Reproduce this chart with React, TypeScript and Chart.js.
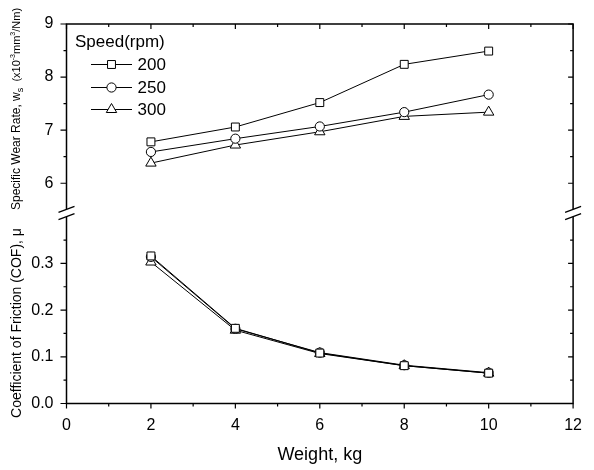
import React, { useEffect, useRef } from 'react';
import { Chart, registerables } from 'chart.js';

Chart.register(...registerables);

// ---- data ----
const weights = [2, 4, 6, 8, 10];
const speedLabels = ['200', '250', '300'];
const wear200 = [6.78, 7.06, 7.52, 8.24, 8.49];
const wear250 = [6.59, 6.84, 7.07, 7.34, 7.67];
const wear300 = [6.38, 6.72, 6.97, 7.26, 7.34];
const cof200 = [0.316, 0.161, 0.108, 0.081, 0.065];
const cof250 = [0.314, 0.16, 0.109, 0.082, 0.066];
const cof300 = [0.303, 0.157, 0.107, 0.081, 0.065];

const xTicks = [0, 2, 4, 6, 8, 10, 12];
const xMinor = [1, 3, 5, 7, 9, 11];
const wearTicks = [6, 7, 8, 9];
const wearMinor = [6.5, 7.5, 8.5];
const cofTicks = [0.0, 0.1, 0.2, 0.3];
const cofMinor = [0.05, 0.15, 0.25, 0.35];

const FONT = '"Liberation Sans", Arial, Helvetica, sans-serif';
const markerStyles = ['rect', 'circle', 'triangle'];
const markerRadius = [5.6, 4.6, 6];

function drawMarker(ctx: CanvasRenderingContext2D, style: string, r: number, x: number, y: number) {
  ctx.beginPath();
  if (style === 'rect') {
    const s = Math.SQRT1_2 * r;
    ctx.rect(x - s, y - s, 2 * s, 2 * s);
  } else if (style === 'circle') {
    ctx.arc(x, y, r, 0, Math.PI * 2);
  } else {
    let rad = 0;
    ctx.moveTo(x + Math.sin(rad) * r, y - Math.cos(rad) * r);
    rad += (2 * Math.PI) / 3;
    ctx.lineTo(x + Math.sin(rad) * r, y - Math.cos(rad) * r);
    rad += (2 * Math.PI) / 3;
    ctx.lineTo(x + Math.sin(rad) * r, y - Math.cos(rad) * r);
    ctx.closePath();
  }
  ctx.fillStyle = '#fff';
  ctx.fill();
  ctx.strokeStyle = '#000';
  ctx.lineWidth = 1;
  ctx.stroke();
}

type Part = { t: string; size: number; dy?: number };

function drawRotated(ctx: CanvasRenderingContext2D, parts: Part[], bx: number, cy: number) {
  ctx.save();
  ctx.translate(bx, cy);
  ctx.rotate(-Math.PI / 2);
  ctx.fillStyle = '#000';
  ctx.textBaseline = 'alphabetic';
  ctx.textAlign = 'left';
  let total = 0;
  const widths: number[] = [];
  for (const p of parts) {
    ctx.font = `${p.size}px ${FONT}`;
    const w = ctx.measureText(p.t).width;
    widths.push(w);
    total += w;
  }
  let x = -total / 2;
  parts.forEach((p, i) => {
    ctx.font = `${p.size}px ${FONT}`;
    ctx.fillText(p.t, x, p.dy || 0);
    x += widths[i];
  });
  ctx.restore();
}

const decor = {
  id: 'decor',
  afterDraw(chart: any) {
    const ctx: CanvasRenderingContext2D = chart.ctx;
    const { left, right, top, bottom } = chart.chartArea;
    const xs = chart.scales.x;
    const yT = chart.scales.yTop;
    const yB = chart.scales.yBot;
    const brk = Math.max(yT.top, yB.top);
    const g = 3.7;
    ctx.save();
    ctx.strokeStyle = '#000';
    ctx.lineWidth = 1.5;
    ctx.beginPath();
    ctx.moveTo(left - 0.75, top);
    ctx.lineTo(right + 0.75, top);
    ctx.moveTo(left - 0.75, bottom);
    ctx.lineTo(right + 0.75, bottom);
    for (const xx of [left, right]) {
      ctx.moveTo(xx, top);
      ctx.lineTo(xx, brk - g);
      ctx.moveTo(xx, brk + g);
      ctx.lineTo(xx, bottom);
    }
    ctx.stroke();

    // break marks
    ctx.lineWidth = 1.3;
    ctx.beginPath();
    for (const xx of [left, right]) {
      for (const s of [-1, 1]) {
        const cy = brk + s * g;
        ctx.moveTo(xx - 8, cy + 3);
        ctx.lineTo(xx + 8, cy - 3);
      }
    }
    ctx.stroke();

    // ticks
    ctx.lineWidth = 1.2;
    ctx.beginPath();
    const yTick = (scale: any, v: number, outLen: number, inLen: number) => {
      const p = scale.getPixelForValue(v);
      ctx.moveTo(left, p);
      ctx.lineTo(left - outLen, p);
      ctx.moveTo(right, p);
      ctx.lineTo(right - inLen, p);
    };
    wearTicks.forEach((v) => yTick(yT, v, 6, 5));
    wearMinor.forEach((v) => yTick(yT, v, 3, 3));
    cofTicks.forEach((v) => yTick(yB, v, 6, 5));
    cofMinor.forEach((v) => yTick(yB, v, 3, 3));
    const xTick = (v: number, outLen: number, inLen: number) => {
      const p = xs.getPixelForValue(v);
      ctx.moveTo(p, bottom);
      ctx.lineTo(p, bottom + outLen);
      ctx.moveTo(p, top);
      ctx.lineTo(p, top + inLen);
    };
    xTicks.forEach((v) => xTick(v, 5, 5));
    xMinor.forEach((v) => xTick(v, 3, 3));
    ctx.stroke();

    // legend
    ctx.fillStyle = '#000';
    ctx.font = `17px ${FONT}`;
    ctx.textBaseline = 'middle';
    ctx.textAlign = 'left';
    ctx.fillText('Speed(rpm)', 75, 42);
    const rows = [64.5, 87.5, 109.5];
    speedLabels.forEach((lab, i) => {
      const y = rows[i];
      ctx.strokeStyle = '#000';
      ctx.lineWidth = 1;
      ctx.beginPath();
      ctx.moveTo(91, y);
      ctx.lineTo(132, y);
      ctx.stroke();
      drawMarker(ctx, markerStyles[i], markerRadius[i], 111.5, y);
      ctx.fillStyle = '#000';
      ctx.font = `17px ${FONT}`;
      ctx.textBaseline = 'middle';
      ctx.fillText(lab, 137.5, y + 1);
    });

    // y titles
    drawRotated(
      ctx,
      [
        { t: 'Specific Wear Rate, w', size: 12 },
        { t: 's', size: 9, dy: 3 },
        { t: '  (x10', size: 11 },
        { t: '-3', size: 7, dy: -5 },
        { t: 'mm', size: 11 },
        { t: '3', size: 7, dy: -5 },
        { t: '/Nm)', size: 11 },
      ],
      19.5,
      109
    );
    drawRotated(ctx, [{ t: 'Coefficient of Friction (COF), \u03bc', size: 14 }], 20.5, 323);
    ctx.restore();
  },
};

function makeSet(label: string, data: number[], i: number, axis: string) {
  return {
    label,
    data: weights.map((w, k) => ({ x: w, y: data[k] })),
    yAxisID: axis,
    borderColor: '#000',
    borderWidth: 1,
    backgroundColor: '#fff',
    pointStyle: markerStyles[i],
    pointRadius: markerRadius[i],
    pointBorderWidth: 1,
    pointBackgroundColor: '#fff',
    pointBorderColor: '#000',
    fill: false,
    tension: 0,
  };
}

export default function App() {
  const ref = useRef<HTMLCanvasElement | null>(null);
  useEffect(() => {
    if (!ref.current) return;
    const tickFont = { family: FONT, size: 16 };
    const chart = new Chart(ref.current, {
      type: 'line',
      data: {
        datasets: [
          makeSet('200', wear200, 0, 'yTop'),
          makeSet('250', wear250, 1, 'yTop'),
          makeSet('300', wear300, 2, 'yTop'),
          makeSet('200 COF', cof200, 0, 'yBot'),
          makeSet('250 COF', cof250, 1, 'yBot'),
          makeSet('300 COF', cof300, 2, 'yBot'),
        ] as any,
      },
      options: {
        responsive: false,
        animation: false,
        devicePixelRatio: 1,
        layout: { padding: { top: 24, right: 9.5, left: 0, bottom: 0 } },
        plugins: { legend: { display: false }, tooltip: { enabled: false } },
        scales: {
          x: {
            type: 'linear',
            min: 0,
            max: 12,
            afterBuildTicks: (s: any) => {
              s.ticks = xTicks.map((v) => ({ value: v }));
            },
            grid: { display: false, drawTicks: false },
            border: { display: false },
            ticks: { font: tickFont, color: '#000', padding: 12, maxRotation: 0, autoSkip: false },
            title: {
              display: true,
              text: 'Weight, kg',
              font: { family: FONT, size: 18 },
              color: '#000',
              padding: { top: 0, bottom: 4 },
            },
            afterFit: (s: any) => {
              s.height = 66.5;
            },
          },
          yBot: {
            type: 'linear',
            position: 'left',
            stack: 'y',
            stackWeight: 190.5,
            min: 0,
            max: 0.408,
            afterBuildTicks: (s: any) => {
              s.ticks = cofTicks.map((v) => ({ value: v }));
            },
            grid: { display: false, drawTicks: false },
            border: { display: false },
            ticks: { font: tickFont, color: '#000', padding: 13, callback: (v: any) => Number(v).toFixed(1) },
            afterFit: (s: any) => {
              s.width = 66.5;
            },
          },
          yTop: {
            type: 'linear',
            position: 'left',
            stack: 'y',
            stackWeight: 189,
            min: 5.44,
            max: 9,
            afterBuildTicks: (s: any) => {
              s.ticks = wearTicks.map((v) => ({ value: v }));
            },
            grid: { display: false, drawTicks: false },
            border: { display: false },
            ticks: { font: tickFont, color: '#000', padding: 13, callback: (v: any) => String(v) },
            afterFit: (s: any) => {
              s.width = 66.5;
            },
          },
        } as any,
      },
      plugins: [decor],
    });
    return () => chart.destroy();
  }, []);
  return (
    <div style={{ position: 'fixed', left: 0, top: 0, width: 594, height: 470, background: '#fff' }}>
      <canvas ref={ref} width={594} height={470} style={{ display: 'block' }} />
    </div>
  );
}
